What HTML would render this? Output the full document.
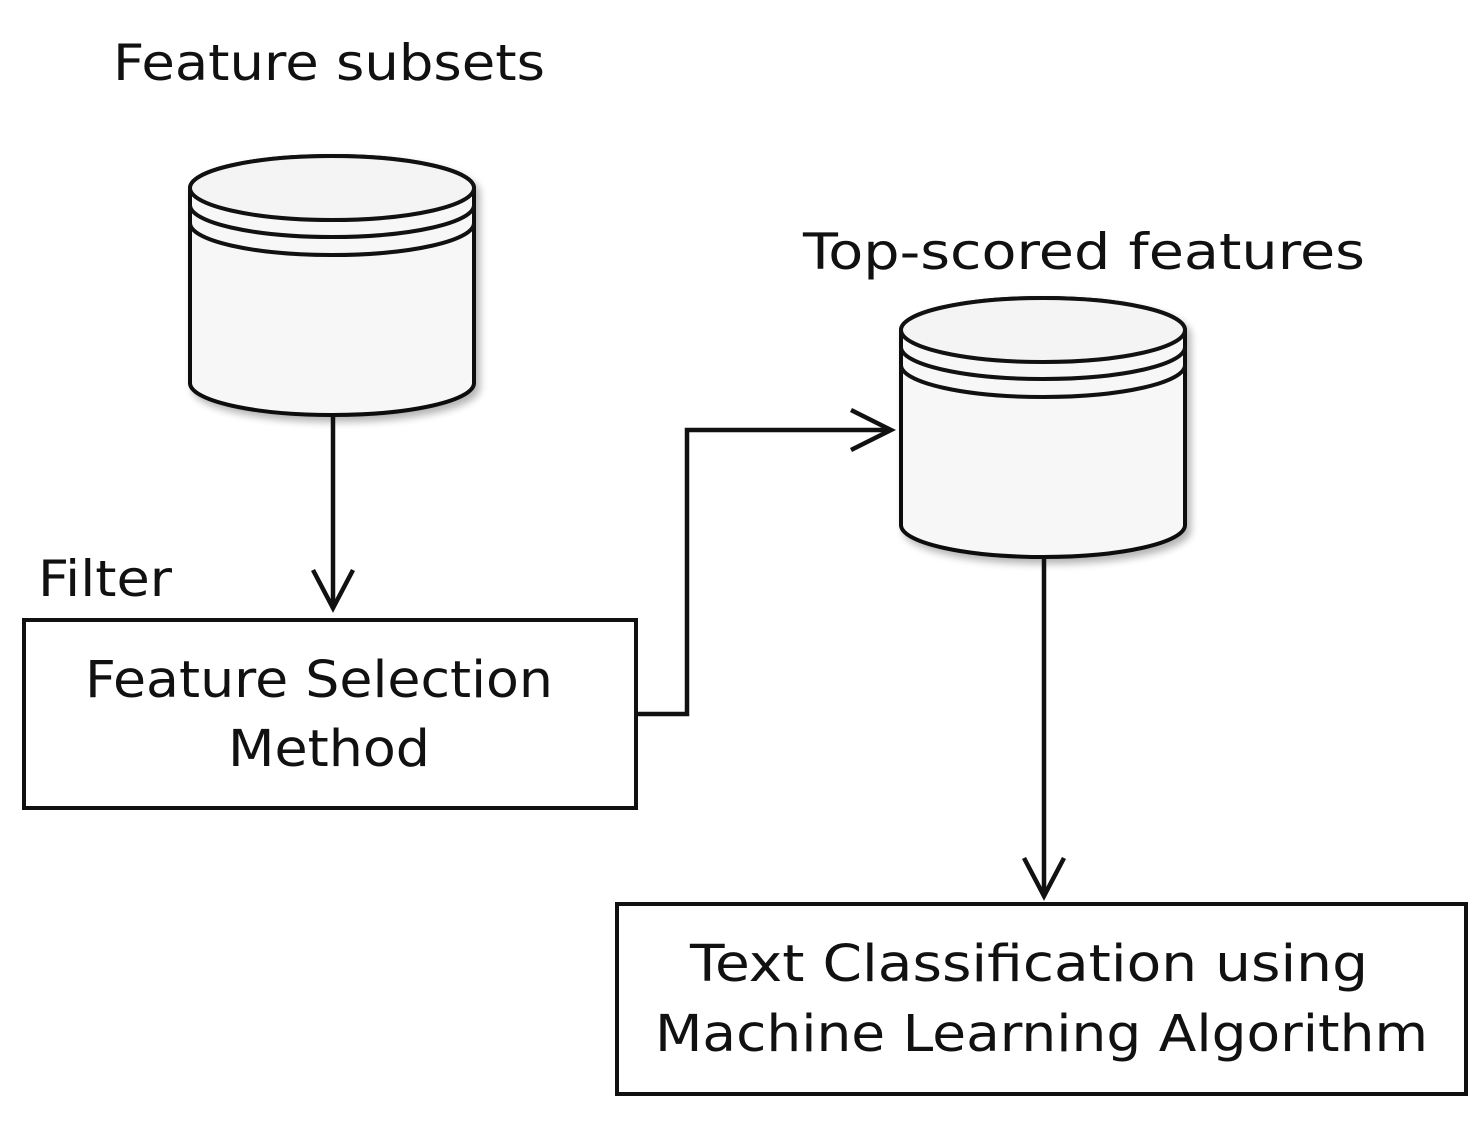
<!DOCTYPE html>
<html><head><style>
body{margin:0;background:#fff}
svg text{font-family:"DejaVu Sans","Liberation Sans",sans-serif;fill:#111}
</style></head><body>
<svg width="1481" height="1121" viewBox="0 0 1481 1121" xmlns="http://www.w3.org/2000/svg">
<defs>
<filter id="sh" x="-10%" y="-10%" width="130%" height="130%"><feGaussianBlur in="SourceAlpha" stdDeviation="4"/><feOffset dx="4" dy="5"/><feComponentTransfer><feFuncA type="linear" slope="0.3"/></feComponentTransfer><feMerge><feMergeNode/><feMergeNode in="SourceGraphic"/></feMerge></filter>
</defs>
<g stroke="#111" stroke-width="4" fill="#f7f7f7">
<g filter="url(#sh)">
<path d="M190,188 L190,383 A142,32 0 0 0 474,383 L474,188 A142,32 0 0 0 190,188 Z"/>
</g>
<ellipse cx="332" cy="188" rx="142" ry="32" fill="#f4f4f4"/>
<path d="M190,205 A142,32 0 0 0 474,205" fill="none"/>
<path d="M190,223 A142,32 0 0 0 474,223" fill="none"/>
<g filter="url(#sh)">
<path d="M901,330 L901,525 A142,32 0 0 0 1185,525 L1185,330 A142,32 0 0 0 901,330 Z"/>
</g>
<ellipse cx="1043" cy="330" rx="142" ry="32" fill="#f4f4f4"/>
<path d="M901,347 A142,32 0 0 0 1185,347" fill="none"/>
<path d="M901,365 A142,32 0 0 0 1185,365" fill="none"/>
<rect x="24" y="620" width="612" height="188" fill="#fff"/>
<rect x="617" y="904" width="849" height="190" fill="#fff"/>
<g fill="none" stroke-width="4.5">
<path d="M333,416 L333,608"/>
<path d="M313,570 L333,608 L353,570"/>
<path d="M636,714 L687,714 L687,430 L891,430"/>
<path d="M851,410 L891,430 L851,450"/>
<path d="M1044,558 L1044,896"/>
<path d="M1024,858 L1044,896 L1064,858"/>
</g>
</g>
<text x="113" y="80" font-size="50" textLength="432" lengthAdjust="spacingAndGlyphs">Feature subsets</text>
<text x="803" y="269" font-size="50" textLength="562" lengthAdjust="spacingAndGlyphs">Top-scored features</text>
<text x="38" y="596" font-size="50" textLength="134" lengthAdjust="spacingAndGlyphs">Filter</text>
<text x="85" y="697" font-size="51" textLength="468" lengthAdjust="spacingAndGlyphs">Feature Selection</text>
<text x="228" y="766" font-size="51" textLength="202" lengthAdjust="spacingAndGlyphs">Method</text>
<text x="690" y="981" font-size="51" textLength="678" lengthAdjust="spacingAndGlyphs">Text Classification using</text>
<text x="655" y="1051" font-size="51" textLength="773" lengthAdjust="spacingAndGlyphs">Machine Learning Algorithm</text>
</svg>
</body></html>
